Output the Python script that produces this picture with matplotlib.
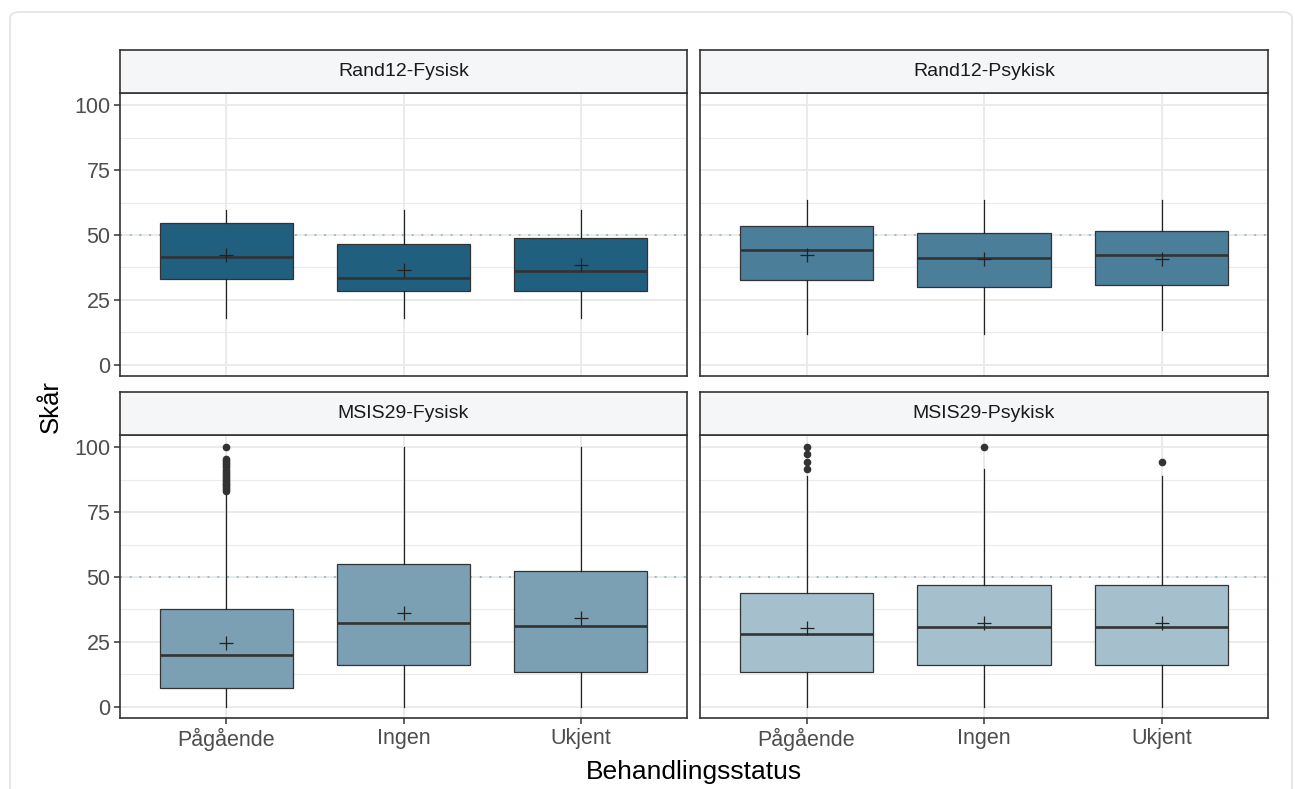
import numpy as np
import matplotlib.pyplot as plt
from matplotlib.patches import FancyBboxPatch

plt.rcParams['font.family'] = ['Liberation Sans', 'DejaVu Sans']

# Data
panels = ["Rand12-Fysisk", "Rand12-Psykisk", "MSIS29-Fysisk", "MSIS29-Psykisk"]
statuses = ["Pågående", "Ingen", "Ukjent"]
fill_colors = ["#215f7e", "#4b7e99", "#7ba0b3", "#a6bfcc"]

whisk_lo = [[18.2, 18.2, 18.2], [12.0, 12.0, 13.3], [0.0, 0.0, 0.0], [0.0, 0.0, 0.0]]
q1 = [[33.1, 28.6, 28.6], [32.5, 29.8, 30.9], [7.4, 16.1, 13.4], [13.6, 16.1, 16.1]]
medians = [[41.5, 33.6, 36.3], [44.1, 41.0, 42.3], [20.0, 32.3, 31.0], [27.9, 30.8, 30.8]]
q3 = [[54.5, 46.5, 49.0], [53.5, 50.9, 51.7], [37.5, 54.9, 52.4], [43.9, 47.0, 47.0]]
whisk_hi = [[59.7, 59.7, 59.7], [63.3, 63.3, 63.3], [83.0, 100.0, 100.0], [89.1, 91.5, 88.9]]
means = [[42.3, 36.7, 38.6], [42.4, 40.6, 40.8], [24.5, 36.0, 34.4], [30.4, 32.2, 32.2]]
outliers = [
    [[], [], []],
    [[], [], []],
    [[83.3, 84.0, 84.6, 85.3, 86.0, 86.7, 87.5, 88.3, 89.0, 89.8, 90.6,
      91.4, 92.2, 93.0, 93.8, 94.6, 95.3, 100.0], [], []],
    [[91.5, 94.4, 97.3, 100.0], [100.0], [94.4]],
]
ref_value = 50

# layout in pixels
W, H = 1295, 789
fig = plt.figure(figsize=(W / 100, H / 100), dpi=100)
fig.patch.set_facecolor("white")

frame = FancyBboxPatch((10 / W, -0.05), 1282 / W, 1 - 12 / H + 0.05,
                       boxstyle="round,pad=0,rounding_size=0.008",
                       transform=fig.transFigure, facecolor="none",
                       edgecolor="#e3e3e3", lw=1.2)
fig.patches.append(frame)

lefts = [120, 700]
panel_w = [567, 568]
tops = [93, 435]
panel_h = 283
strip_h = 43

for k, name in enumerate(panels):
    r, c = divmod(k, 2)
    x0, w = lefts[c], panel_w[c]
    y0 = tops[r]
    ax = fig.add_axes([x0 / W, 1 - (y0 + panel_h) / H, w / W, panel_h / H])
    sax = fig.add_axes([x0 / W, 1 - y0 / H, w / W, strip_h / H])

    stats = []
    for i, s in enumerate(statuses):
        stats.append(dict(label=s, whislo=whisk_lo[k][i], q1=q1[k][i], med=medians[k][i],
                          q3=q3[k][i], whishi=whisk_hi[k][i], mean=means[k][i],
                          fliers=outliers[k][i]))
    pos = np.arange(1, len(statuses) + 1)
    ax.bxp(stats, positions=pos, widths=0.75, patch_artist=True, showmeans=True,
           showcaps=False,
           boxprops=dict(facecolor=fill_colors[k], edgecolor="#333333", lw=0.9),
           medianprops=dict(color="#333333", lw=1.9),
           whiskerprops=dict(color="#222222", lw=0.9),
           meanprops=dict(marker="+", markeredgecolor="#222222", markersize=10, markeredgewidth=0.9),
           flierprops=dict(marker="o", markerfacecolor="#333333", markeredgecolor="#333333",
                           markersize=4.5), zorder=3)
    ax.axhline(ref_value, color="#96bccb", lw=1.4, ls=(0, (1, 4)), zorder=2)

    ax.set_xlim(0.4, 3.6)
    ax.set_ylim(-4.3, 104.7)
    ax.set_yticks([0, 25, 50, 75, 100])
    ax.set_yticks([12.5, 37.5, 62.5, 87.5], minor=True)
    ax.set_xticks(pos)
    ax.grid(True, which="major", color="#ebebeb", lw=1.4, zorder=0)
    ax.grid(True, which="minor", axis="y", color="#ebebeb", lw=0.8, zorder=0)
    ax.set_axisbelow(True)
    for sp in ax.spines.values():
        sp.set_color("#333333")
        sp.set_linewidth(1.2)
    ax.tick_params(which="minor", length=0)
    ax.tick_params(which="major", length=4, width=1.1, color="#333333",
                   labelsize=15.5, labelcolor="#4d4d4d", pad=3)
    if c == 0:
        ax.set_yticklabels([str(v) for v in [0, 25, 50, 75, 100]])
    else:
        ax.tick_params(axis="y", length=0, labelleft=False)
    if r == 1:
        ax.set_xticklabels(statuses)
    else:
        ax.tick_params(axis="x", length=0, labelbottom=False)

    sax.set_facecolor("#f5f6f8")
    sax.set_xticks([])
    sax.set_yticks([])
    for sp in sax.spines.values():
        sp.set_color("#333333")
        sp.set_linewidth(1.2)
    sax.text(0.5, 0.5, name, ha="center", va="center", fontsize=14,
             color="#1a1a1a", transform=sax.transAxes)

fig.text(51 / W, 1 - 407 / H, "Skår", rotation=90, ha="center", va="center", fontsize=18.5)
fig.text(694 / W, 1 - 772 / H, "Behandlingsstatus", ha="center", va="center", fontsize=19)

fig.savefig("out.png", dpi=100)
